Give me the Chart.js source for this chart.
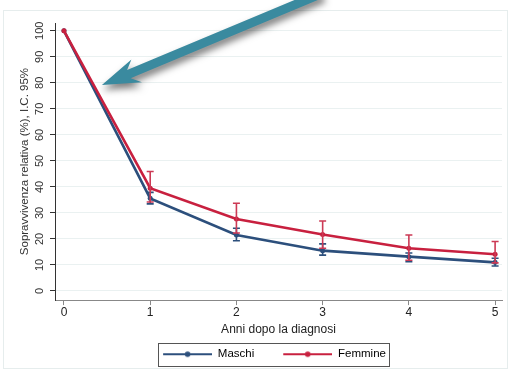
<!DOCTYPE html>
<html>
<head>
<meta charset="utf-8">
<script src="https://cdn.jsdelivr.net/npm/chart.js@4"></script>
<style>
html,body{margin:0;padding:0;background:#fff;}
#wrap{width:511px;height:372px;position:relative;}
</style>
</head>
<body>
<div id="wrap"><canvas id="c" width="511" height="372"></canvas></div>
<script>
// ---- data ----
const years = [0, 1, 2, 3, 4, 5];
const xTicks = [0, 1, 2, 3, 4, 5];
const yTicks = [0, 10, 20, 30, 40, 50, 60, 70, 80, 90, 100];
const seriesNames = ["Maschi", "Femmine"];
const maschi     = [100, 35.6, 21.5, 15.5, 13.2, 11.0];
const maschiLow  = [100, 33.5, 19.3, 13.8, 11.3, 9.6];
const maschiHigh = [100, 37.9, 24.1, 18.1, 14.6, 12.6];
const femmine     = [100, 39.5, 27.7, 21.7, 16.4, 14.1];
const femmineLow  = [100, 34.2, 22.3, 16.4, 11.8, 10.8];
const femmineHigh = [100, 45.9, 33.7, 26.9, 21.5, 19.0];
const xTitle = "Anni dopo la diagnosi";
const yTitle = "Sopravvivenza relativa (%), I.C. 95%";
// arrow annotation (data units)
const arrowTip  = {x: 0.44, y: 79.2};
const arrowTail = {x: 3.00, y: 114.7};

const BLUE = "#2c4f7c";
const RED = "#c8203f";
const FONT = "'Liberation Sans', Arial, sans-serif";
const LEG_BLANK = 29;

function legendImg(color) {
  const c = document.createElement('canvas');
  c.width = 49 + LEG_BLANK; c.height = 10;
  const g = c.getContext('2d');
  g.strokeStyle = color; g.lineWidth = 2;
  g.beginPath(); g.moveTo(LEG_BLANK, 5); g.lineTo(LEG_BLANK + 49, 5); g.stroke();
  g.fillStyle = color;
  g.beginPath(); g.arc(LEG_BLANK + 24.5, 5, 2.8, 0, Math.PI * 2); g.fill();
  return c;
}
const imgs = [legendImg(BLUE), legendImg(RED)];

const errorBars = {
  id: 'errorBars',
  afterDatasetsDraw(chart) {
    const {ctx, scales: {x, y}} = chart;
    const sets = [[maschiLow, maschiHigh, BLUE], [femmineLow, femmineHigh, "#cc3a55"]];
    ctx.save();
    sets.forEach(([lo, hi, col]) => {
      ctx.strokeStyle = col; ctx.lineWidth = 1.6;
      years.forEach((yr, i) => {
        if (hi[i] === lo[i]) return;
        const px = x.getPixelForValue(yr);
        const p1 = y.getPixelForValue(lo[i]);
        const p2 = y.getPixelForValue(hi[i]);
        ctx.beginPath();
        ctx.moveTo(px, p1); ctx.lineTo(px, p2);
        ctx.moveTo(px - 3.5, p1); ctx.lineTo(px + 3.5, p1);
        ctx.moveTo(px - 3.5, p2); ctx.lineTo(px + 3.5, p2);
        ctx.stroke();
      });
    });
    ctx.restore();
  }
};

const frameAndArrow = {
  id: 'frameAndArrow',
  beforeDraw(chart) {
    const ctx = chart.ctx;
    ctx.save();
    ctx.strokeStyle = "#e6eded"; ctx.lineWidth = 1;
    ctx.strokeRect(3.5, 10.5, 504, 358);
    ctx.restore();
  },
  afterDraw(chart) {
    const {ctx, scales: {x, y}} = chart;
    const tx = x.getPixelForValue(arrowTip.x), ty = y.getPixelForValue(arrowTip.y);
    const ex = x.getPixelForValue(arrowTail.x), ey = y.getPixelForValue(arrowTail.y);
    const ang = Math.atan2(ey - ty, ex - tx);
    const len = Math.hypot(ex - tx, ey - ty);
    ctx.save();
    ctx.translate(tx, ty);
    ctx.rotate(ang);
    ctx.shadowColor = "rgba(0,0,0,0.5)";
    ctx.shadowBlur = 7;
    ctx.shadowOffsetX = 1;
    ctx.shadowOffsetY = 5;
    ctx.fillStyle = "#3a8a9f";
    ctx.beginPath();
    ctx.moveTo(0, 0);
    ctx.lineTo(37, -12);
    ctx.lineTo(29, -4);
    ctx.lineTo(len, -4);
    ctx.lineTo(len, 5);
    ctx.lineTo(29, 5);
    ctx.lineTo(38, 13);
    ctx.closePath();
    ctx.fill();
    ctx.restore();
  }
};

const legendBox = {
  id: 'legendBox',
  afterDraw(chart) {
    const hb = chart.legend.legendHitBoxes;
    if (!hb || !hb.length) return;
    const first = hb[0], last = hb[hb.length - 1];
    const ctx = chart.ctx;
    const cy = first.top + first.height / 2;
    ctx.save();
    ctx.strokeStyle = "#555"; ctx.lineWidth = 1;
    const l = Math.round(first.left + LEG_BLANK - 5) + 0.5;
    const r = Math.round(last.left + last.width + 3) + 0.5;
    const t = Math.round(cy - 11.5) + 0.5;
    const b = Math.round(cy + 11.5) + 0.5;
    ctx.strokeRect(l, t, r - l, b - t);
    ctx.restore();
  }
};

Chart.defaults.font.family = FONT;
Chart.defaults.color = "#333";

new Chart(document.getElementById('c'), {
  type: 'line',
  data: {
    datasets: [
      {label: seriesNames[0], order: 1, data: years.map((v, i) => ({x: v, y: maschi[i]})),
       borderColor: BLUE, backgroundColor: BLUE, borderWidth: 2.6, pointRadius: 2.5, pointBorderWidth: 0, tension: 0},
      {label: seriesNames[1], order: 0, data: years.map((v, i) => ({x: v, y: femmine[i]})),
       borderColor: RED, backgroundColor: RED, borderWidth: 2.6, pointRadius: 2.5, pointBorderWidth: 0, tension: 0}
    ]
  },
  options: {
    responsive: false,
    animation: false,
    layout: {padding: {left: 18, right: 9, top: 23, bottom: 2}},
    plugins: {
      tooltip: {enabled: false},
      legend: {
        position: 'bottom',
        fullSize: true,
        labels: {
          usePointStyle: true,
          pointStyleWidth: 49 + LEG_BLANK,
          boxHeight: 10,
          padding: 0,
          color: "#222",
          font: {size: 11.5},
          generateLabels: (chart) => chart.data.datasets.map((d, i) => ({
            text: d.label, pointStyle: imgs[i], fillStyle: d.borderColor,
            strokeStyle: d.borderColor, lineWidth: 0, datasetIndex: i, hidden: false
          }))
        }
      }
    },
    scales: {
      x: {
        type: 'linear', min: -0.104, max: 5.08,
        afterBuildTicks: s => { s.ticks = xTicks.map(v => ({value: v})); },
        grid: {drawOnChartArea: false, tickLength: 5, color: "#888", tickColor: "#888"},
        border: {color: "#888", width: 1},
        ticks: {font: {size: 12, lineHeight: 1}, color: "#222", padding: 2, maxRotation: 0},
        title: {display: true, text: xTitle, font: {size: 12}, color: "#222", padding: {top: 1, bottom: 12}}
      },
      y: {
        type: 'linear', min: -3.5, max: 103,
        afterBuildTicks: s => { s.ticks = yTicks.map(v => ({value: v})); },
        grid: {color: "#eaf1f1", tickLength: 5, tickColor: "#333"},
        border: {color: "#333", width: 1},
        ticks: {font: {size: 11}, color: "#333", minRotation: 90, maxRotation: 90, crossAlign: 'center', padding: 1},
        title: {display: true, text: yTitle, font: {size: 11.5}, color: "#333", padding: {top: 0, bottom: 3}}
      }
    }
  },
  plugins: [errorBars, frameAndArrow, legendBox]
});
</script>
</body>
</html>
